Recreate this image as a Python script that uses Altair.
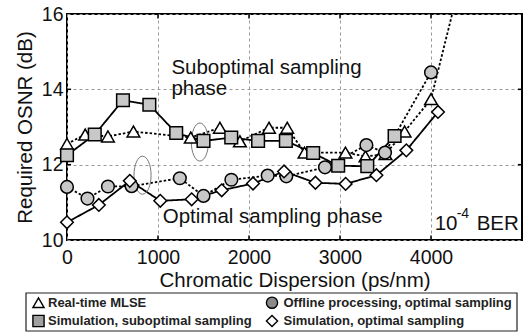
import altair as alt
import pandas as pd

FONT = "Liberation Sans"

series_names = [
    "Real-time MLSE",
    "Simulation, suboptimal sampling",
    "Offline processing, optimal sampling",
    "Simulation, optimal sampling",
]

# Real-time MLSE (triangles, dotted)
mlse_x = [0, 200, 450, 730, 1360, 1680, 1900, 2220, 2420, 2610, 3060, 3280, 3500, 3710, 4000]
mlse_y = [12.55, 12.8, 12.75, 12.88, 12.72, 12.98, 12.62, 12.98, 12.98, 12.32, 12.32, 12.22, 12.28, 12.88, 13.74]
# continuation of the MLSE curve beyond the top of the plot (line only)
mlse_ext_x = [4300]
mlse_ext_y = [16.65]

# Simulation, suboptimal sampling (grey squares, solid)
sub_x = [0, 305, 615, 905, 1200, 1500, 1805, 2100, 2405, 2705, 2980, 3300, 3600]
sub_y = [12.25, 12.8, 13.71, 13.59, 12.84, 12.63, 12.72, 12.63, 12.63, 12.31, 11.97, 11.96, 12.76]

# Offline processing, optimal sampling (grey circles, dotted)
off_x = [0, 225, 450, 710, 1240, 1500, 1806, 2205, 2410, 2835, 3290, 3495, 4000]
off_y = [11.41, 11.1, 11.42, 11.43, 11.64, 11.17, 11.6, 11.71, 11.69, 11.93, 12.52, 12.32, 14.45]

# Simulation, optimal sampling (white diamonds, solid)
opt_x = [0, 350, 690, 1025, 1370, 1700, 2044, 2385, 2730, 3062, 3400, 3729, 4077]
opt_y = [10.47, 10.93, 11.57, 11.04, 11.08, 11.32, 11.5, 11.82, 11.52, 11.49, 11.72, 12.38, 13.4]

x_ticks = [0, 1000, 2000, 3000, 4000]
y_ticks = [10, 12, 14, 16]
inner_x_ticks = [1000, 2000, 3000, 4000]
inner_y_ticks = [12, 14]

ellipse_x = [1460, 830]
ellipse_y = [12.6, 11.72]

series_shapes = ["triangle-up", "square", "circle", "diamond"]
series_fills = ["white", "#c8c8c8", "#c8c8c8", "white"]
legend_fills = ["white", "#a0a0a0", "#8a8a8a", "white"]

series_data = [
    (series_names[0], mlse_x, mlse_y),
    (series_names[1], sub_x, sub_y),
    (series_names[2], off_x, off_y),
    (series_names[3], opt_x, opt_y),
]

pt_rows = []
for name, xs, ys in series_data:
    for xv, yv in zip(xs, ys):
        pt_rows.append({"series": name, "x": xv, "y": yv})
pt_df = pd.DataFrame(pt_rows)

line_rows = []
for name, xs, ys in series_data:
    for xv, yv in zip(xs, ys):
        line_rows.append({"curve": name, "x": xv, "y": yv})
for xv, yv in zip(mlse_ext_x, mlse_ext_y):
    line_rows.append({"curve": series_names[0], "x": xv, "y": yv})
line_df = pd.DataFrame(line_rows)

x_scale = alt.Scale(domain=[0, 5000], nice=False, zero=False)
y_scale = alt.Scale(domain=[10, 16], nice=False, zero=False)

x_axis = alt.Axis(
    values=x_ticks, format="d", title="Chromatic Dispersion (ps/nm)", grid=True,
    gridDash=[3, 3], gridColor="#9a9a9a", gridWidth=1,
    ticks=False, tickSize=0, domain=False,
    labelFont=FONT, labelFontSize=19.5, labelColor="#111", labelBaseline="alphabetic",
    labelPadding=23, labelFlush=False, labelOverlap=False,
    titleFont=FONT, titleFontSize=20.5, titleFontWeight="normal", titleColor="#111",
    titleBaseline="alphabetic", titleY=46, titleX=227.5,
)
y_axis = alt.Axis(
    values=y_ticks, format="d", title="Required OSNR (dB)", grid=True,
    gridDash=[3, 3], gridColor="#9a9a9a", gridWidth=1,
    ticks=False, tickSize=0, domain=False,
    labelFont=FONT, labelFontSize=19.5, labelColor="#111", labelBaseline="middle",
    labelPadding=4, labelFlush=False, labelOverlap=False,
    titleFont=FONT, titleFontSize=20.5, titleFontWeight="normal", titleColor="#111",
    titleBaseline="alphabetic", titleAngle=-90, titleAlign="center",
    titleX=-36, titleY=113,
)

X = alt.X("x:Q", scale=x_scale, axis=x_axis)
Y = alt.Y("y:Q", scale=y_scale, axis=y_axis)

lines = alt.Chart(line_df).mark_line(clip=True, color="black", strokeWidth=1.8).encode(
    x=X, y=Y,
    strokeDash=alt.StrokeDash(
        "curve:N",
        scale=alt.Scale(domain=series_names, range=[[2.5, 2], [1, 0], [2.5, 2], [1, 0]]),
        legend=None,
    ),
    detail="curve:N",
    order="x:Q",
)

points = alt.Chart(pt_df).mark_point(
    filled=True, stroke="black", strokeWidth=1.5, opacity=1, size=160
).encode(
    x=X, y=Y,
    shape=alt.Shape("series:N", scale=alt.Scale(domain=series_names, range=series_shapes), legend=None),
    fill=alt.Fill("series:N", scale=alt.Scale(domain=series_names, range=series_fills), legend=None),
)

ell_df = pd.DataFrame({"x": ellipse_x, "y": ellipse_y})
ellipses = alt.Chart(ell_df).mark_point(
    shape="M0,-1A0.45,1 0 1,1 0,1A0.45,1 0 1,1 0,-1Z",
    size=1444, filled=False, stroke="#777", strokeWidth=1, opacity=1,
).encode(x=X, y=Y)

tick_top = alt.Chart(pd.DataFrame({"x": inner_x_ticks})).mark_rule(color="black", strokeWidth=1.5).encode(
    x=alt.X("x:Q", scale=x_scale), y=alt.datum(16), y2=alt.datum(15.88)
)
tick_bot = alt.Chart(pd.DataFrame({"x": inner_x_ticks})).mark_rule(color="black", strokeWidth=1.5).encode(
    x=alt.X("x:Q", scale=x_scale), y=alt.datum(10), y2=alt.datum(10.12)
)
tick_left = alt.Chart(pd.DataFrame({"y": inner_y_ticks})).mark_rule(color="black", strokeWidth=1.5).encode(
    y=alt.Y("y:Q", scale=y_scale), x=alt.datum(0), x2=alt.datum(45)
)
tick_right = alt.Chart(pd.DataFrame({"y": inner_y_ticks})).mark_rule(color="black", strokeWidth=1.5).encode(
    y=alt.Y("y:Q", scale=y_scale), x=alt.datum(5000), x2=alt.datum(4955)
)


def label(text, xv, yv, size=20.5, dx=0, dy=0):
    return alt.Chart(pd.DataFrame({"x": [xv], "y": [yv], "t": [text]})).mark_text(
        font=FONT, fontSize=size, align="left", baseline="middle", color="#111", dx=dx, dy=dy
    ).encode(x=alt.X("x:Q", scale=x_scale), y=alt.Y("y:Q", scale=y_scale), text="t:N")


texts = [
    label("Suboptimal sampling", 1147, 14.57),
    label("phase", 1147, 14.0),
    label("Optimal sampling phase", 1052, 10.6),
    label("10", 4040, 10.43),
    label("-4", 4040, 10.43, size=14, dx=22, dy=-10),
    label("BER", 4040, 10.43, dx=42),
]

# ---- legend box below the plot (two columns, two rows) ----
one = pd.DataFrame({"k": [0]})
legend_layers = [
    alt.Chart(one).mark_rect(fill="white", stroke="#222", strokeWidth=1.2).encode(
        x=alt.value(-41), x2=alt.value(450), y=alt.value(279), y2=alt.value(317)
    )
]
col_sym_x = [-28.5, 205]
col_lab_x = [-19, 216.5]
row_y = [288.7, 307]
for i, name in enumerate(series_names):
    c, r = i // 2, i % 2
    legend_layers.append(
        alt.Chart(one).mark_point(
            shape=series_shapes[i], filled=True, fill=legend_fills[i], stroke="black",
            strokeWidth=1.4, size=125, opacity=1,
        ).encode(x=alt.value(col_sym_x[c]), y=alt.value(row_y[r]))
    )
    legend_layers.append(
        alt.Chart(one).mark_text(
            text=name, font=FONT, fontSize=13, fontWeight="bold", color="#222",
            align="left", baseline="middle",
        ).encode(x=alt.value(col_lab_x[c]), y=alt.value(row_y[r]))
    )

chart = alt.layer(
    lines, ellipses, points, tick_top, tick_bot, tick_left, tick_right, *texts, *legend_layers
).properties(
    width=455, height=226,
    autosize=alt.AutoSizeParams(type="none"),
    padding={"left": 67, "top": 14, "right": 2, "bottom": 92},
    background="white",
).configure_view(
    stroke="black", strokeWidth=2
)

chart.save("out.html", embed_options={"renderer": "svg", "actions": False})
